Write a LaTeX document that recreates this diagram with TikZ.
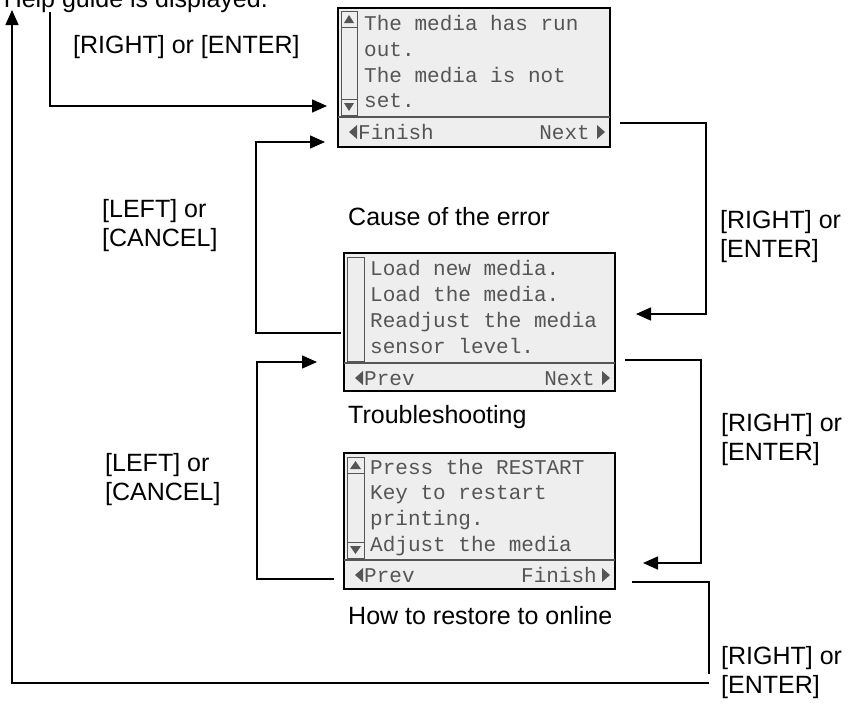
\documentclass[tikz,border=0pt]{standalone}
\usepackage{fontspec}
\setmainfont{Liberation Sans}
\newfontfamily\scr{Liberation Mono}
\usetikzlibrary{arrows.meta}
\definecolor{scrbg}{HTML}{EEEEEE}
\definecolor{scrtx}{HTML}{555555}
\tikzset{
 conn/.style={line width=1.6pt},
 arr/.style={conn,-{Triangle[length=15pt,width=13pt]}},
 lbl/.style={font=\fontsize{25}{29}\selectfont,align=left,anchor=west,inner sep=0pt},
 captxt/.style={font=\fontsize{25}{29}\selectfont,anchor=west,inner sep=0pt},
 scrbox/.style={draw=black,line width=1.5pt,fill=scrbg},
 sep/.style={draw=scrtx,line width=1.2pt},
 stx/.style={font=\scr\fontsize{21}{25}\selectfont,text=scrtx,anchor=base west,inner sep=0pt,yscale=1},
 sbar/.style={draw=scrtx,line width=1pt,fill=scrbg},
 tri/.style={fill=scrtx,draw=none}
}
\begin{document}
\begin{tikzpicture}[x=1pt,y=-1pt]
\useasboundingbox[fill=white] (0,0) rectangle (862,712);
% top text (clipped)
\node[captxt,anchor=base east] (help) at (268,7) {Help guide is displayed.};
% ---- screen 1
\draw[scrbox] (338,8) rectangle (610,147);
\node[stx] (s1a) at (364,30) {The media has run};
\node[stx] (s1b) at (364,56) {out.};
\node[stx] (s1c) at (364,82) {The media is not};
\node[stx] (s1d) at (364,107) {set.};
\draw[sep] (338,117) -- (610,117);
\draw[sbar] (341,11) rectangle (357,115);
\draw[sbar] (341,11) rectangle (357,27);
\draw[sbar] (341,99) rectangle (357,115);
\fill[tri] (344,23) -- (354,23) -- (349,15) -- cycle;
\fill[tri] (344,103) -- (354,103) -- (349,111) -- cycle;
\fill[tri] (349,132) -- (357,125) -- (357,139) -- cycle;
\node[stx] (f1) at (358,139) {Finish};
\node[stx,anchor=base east] (n1) at (590,139) {Next};
\fill[tri] (605,132) -- (597,125) -- (597,139) -- cycle;
% ---- screen 2
\draw[scrbox] (344,253) rectangle (615,391);
\node[stx] at (370,275) {Load new media.};
\node[stx] at (370,301) {Load the media.};
\node[stx] at (370,327) {Readjust the media};
\node[stx] at (370,353) {sensor level.};
\draw[sep] (344,363) -- (615,363);
\draw[sbar] (347,257) rectangle (364,361);
\fill[tri] (355,378) -- (363,371) -- (363,385) -- cycle;
\node[stx] (p2) at (364,385) {Prev};
\node[stx,anchor=base east] (n2) at (595,385) {Next};
\fill[tri] (610,378) -- (602,371) -- (602,385) -- cycle;
% ---- screen 3
\draw[scrbox] (344,453) rectangle (615,589);
\node[stx] at (370,474) {Press the RESTART};
\node[stx] at (370,499) {Key to restart};
\node[stx] at (370,525) {printing.};
\node[stx] at (370,551) {Adjust the media};
\draw[sep] (344,560) -- (615,560);
\draw[sbar] (347,457) rectangle (364,558);
\draw[sbar] (347,457) rectangle (364,473);
\draw[sbar] (347,542) rectangle (364,558);
\fill[tri] (350,469) -- (361,469) -- (355.5,461) -- cycle;
\fill[tri] (350,546) -- (361,546) -- (355.5,554) -- cycle;
\fill[tri] (355,575) -- (363,568) -- (363,582) -- cycle;
\node[stx] (p3) at (364,582) {Prev};
\node[stx,anchor=base east] (f3) at (597,582) {Finish};
\fill[tri] (610,575) -- (602,568) -- (602,582) -- cycle;
% captions
\node[captxt] (c1) at (348,217) {Cause of the error};
\node[captxt] (c2) at (348,417) {Troubleshooting};
\node[captxt] (c3) at (348,616) {How to restore to online};
% labels
\node[lbl] (k0) at (73,47) {[RIGHT] or [ENTER]};
\node[lbl] (k1) at (102,226) {[LEFT] or\\{}[CANCEL]};
\node[lbl] (k2) at (105,480) {[LEFT] or\\{}[CANCEL]};
\node[lbl] (k3) at (720,237) {[RIGHT] or\\{}[ENTER]};
\node[lbl] (k4) at (721,440) {[RIGHT] or\\{}[ENTER]};
\node[lbl] (k5) at (721,673) {[RIGHT] or\\{}[ENTER]};
% connector coordinates
\coordinate (a0) at (50,12); \coordinate (a0e) at (327,106);
\coordinate (b1) at (341,333); \coordinate (b1e) at (325,142);
\coordinate (b2) at (334,579); \coordinate (b2e) at (317,362);
\coordinate (r1) at (620,123); \coordinate (r1e) at (636,314);
\coordinate (r2) at (625,360); \coordinate (r2e) at (643,563);
\coordinate (r3) at (632,582); \coordinate (r3e) at (709,674);
\coordinate (g0) at (709,683); \coordinate (g0e) at (12,10);
\draw[arr] (a0) |- (a0e);
\draw[arr] (b1) -- (256,333) |- (b1e);
\draw[arr] (b2) -- (257,579) |- (b2e);
\draw[arr] (r1) -- (706,123) |- (r1e);
\draw[arr] (r2) -- (701,360) |- (r2e);
\draw[conn] (r3) -| (r3e);
\draw[arr] (g0) -| (g0e);
\end{tikzpicture}
\end{document}
